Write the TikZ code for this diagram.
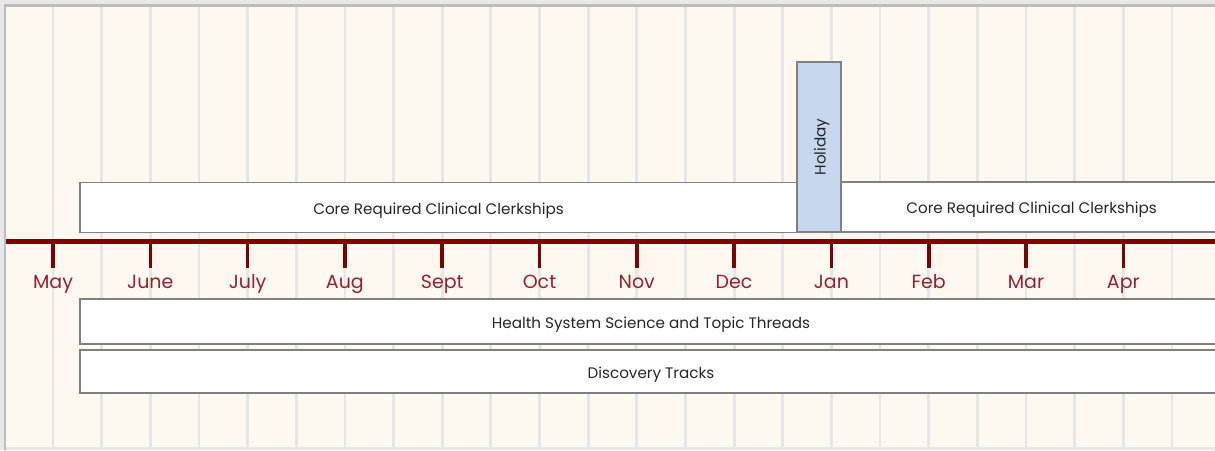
\documentclass[tikz,border=0pt]{standalone}
\usepackage{fontspec}
\setmainfont{Poppins}
\usetikzlibrary{positioning}
\definecolor{cream}{HTML}{FDF9F1}
\definecolor{gridgray}{HTML}{E6E6E6}
\definecolor{framegray}{HTML}{BDBDBD}
\definecolor{boxgray}{HTML}{808080}
\definecolor{timered}{HTML}{800000}
\definecolor{monthred}{HTML}{952030}
\definecolor{holidayblue}{HTML}{C6D7EE}
\tikzset{
	gridline/.style={draw=gridgray, line width=2.8pt},
	timeline/.style={draw=timered, line width=5pt},
	monthtick/.style={draw=timered, line width=3.6pt},
	month/.style={text=monthred, anchor=base, font=\fontsize{19}{22}\selectfont},
	phase/.style={rectangle, draw=boxgray, fill=white, line width=1.2pt, text=black!85, text height=13pt, text depth=0pt, font=\fontsize{15.2}{18}\selectfont},
	holiday/.style={phase, fill=holidayblue, rotate=90}
}
\begin{document}
\begin{tikzpicture}[x=1pt, y=-1pt]

\useasboundingbox (0,0) rectangle (1215,450);
\fill[gray!18] (0,0) rectangle (1215,450);
\fill[cream] (6,7) rectangle (1215,447);
\draw[framegray, line width=2.5pt] (5,450) -- (5,5.5) -- (1215,5.5);

% half-month grid
\foreach \i in {0,...,23}
	\draw[gridline] ({53+48.65*\i},7) -- ({53+48.65*\i},447);

\begin{scope}
\clip (6,7) rectangle (1215,447);

\node[phase, minimum width=717pt, minimum height=50pt] (core1) at (438.5,207.5) {Core Required Clinical Clerkships};
\node[phase, minimum width=381pt, minimum height=50pt] (core2) at (1031.5,207) {Core Required Clinical Clerkships};
\node[holiday, minimum width=170pt, minimum height=44pt] (hol) at (819,147) {Holiday};

\node[phase, minimum width=1142pt, minimum height=45pt] (hss) at (651,321.5) {Health System Science and Topic Threads};
\node[phase, minimum width=1142pt, minimum height=43pt] (disc) at (651,371.5) {Discovery Tracks};

\draw[timeline] (4,241) -- (1215,241);
\end{scope}

% months
\foreach \m [count=\i from 0] in {May,June,July,Aug,Sept,Oct,Nov,Dec,Jan,Feb,Mar,Apr}{
	\draw[monthtick] ({53+97.3*\i},241) -- ({53+97.3*\i},268);
	\node[month] (m\i) at ({53+97.3*\i},288.5) {\m};
}

\end{tikzpicture}
\end{document}
